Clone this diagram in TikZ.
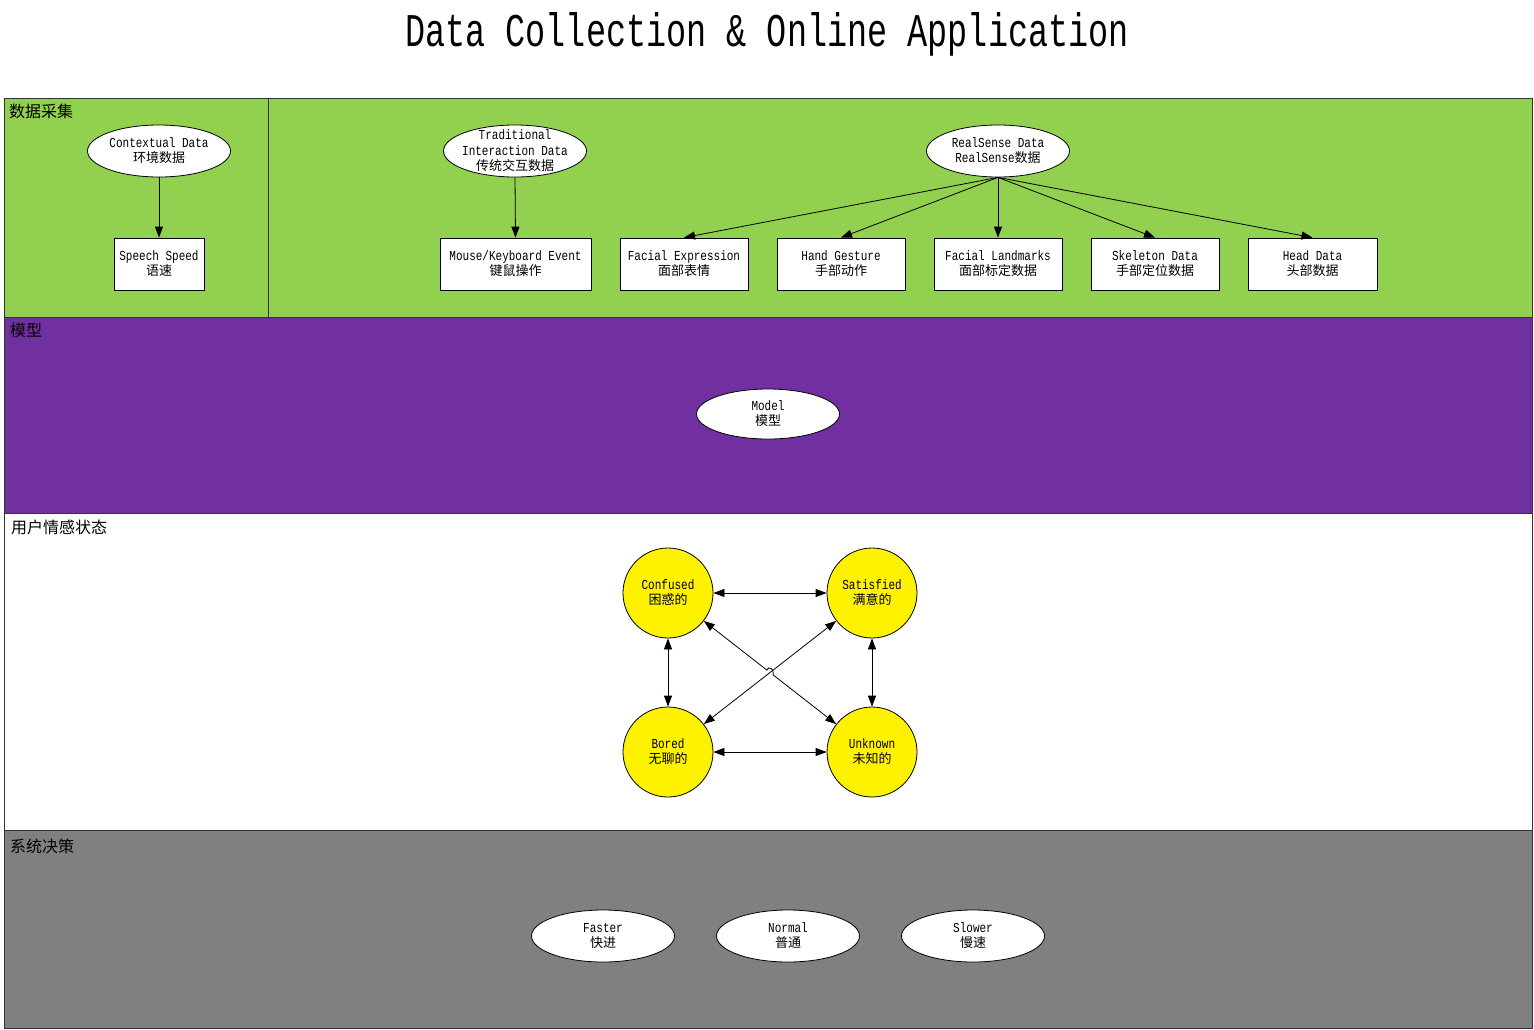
\documentclass[tikz,border=0pt]{standalone}
\usepackage{fontspec}
\usepackage{graphicx}
\setmainfont{Liberation Mono}
\newfontfamily\cjk{Noto Sans CJK SC}
\usetikzlibrary{shapes.geometric,arrows.meta,calc}
\definecolor{lgreen}{HTML}{92D050}
\definecolor{lpurple}{HTML}{7030A0}
\definecolor{lgray}{HTML}{808080}
\newcommand\zh[1]{{\cjk\fontsize{13}{15}\selectfont #1}}
\newcommand\en[1]{\scalebox{1}[1.25]{#1}}
\begin{document}
\begin{tikzpicture}[x=1pt,y=-1pt,
 every node/.style={font=\fontsize{11}{15}\selectfont, align=center, text=black},
 ell/.style={ellipse, draw=black, fill=white, minimum width=143pt, minimum height=52pt, inner sep=0pt, line width=0.8pt},
 box/.style={rectangle, draw=black, fill=white, minimum height=52pt, inner sep=0pt, line width=0.8pt},
 state/.style={circle, draw=black, fill=yellow, minimum size=90pt, inner sep=0pt, line width=0.8pt},
 arr/.style={-{Triangle[length=11pt,width=8pt]}, line width=0.8pt},
 darr/.style={{Triangle[length=11pt,width=8pt]}-{Triangle[length=11pt,width=8pt]}, line width=0.8pt},
 lane/.style={draw=black!80, line width=1pt},
 lanelabel/.style={anchor=base west, font=\cjk\fontsize{16}{16}\selectfont, inner sep=0pt}
]
\useasboundingbox (0,0) rectangle (1534,1029);
\fill[white] (0,0) rectangle (1534,1029);

% title
\node[anchor=base, inner sep=0pt] (title) at (767,46) {\fontsize{33.5}{40}\selectfont\scalebox{1}[1.4]{Data Collection \& Online Application}};

% lanes
\path[lane, fill=lgreen] (4,98) rectangle (1532,317);
\draw[lane] (268,98) -- (268,317);
\path[lane, fill=lpurple] (4,317) rectangle (1532,513);
\path[lane, fill=white] (4,513) rectangle (1532,830);
\path[lane, fill=lgray] (4,830) rectangle (1532,1028);

\node[lanelabel] (l1) at (9,117) {数据采集};
\node[lanelabel] (l2) at (10,336) {模型};
\node[lanelabel] (l3) at (11,533) {用户情感状态};
\node[lanelabel] (l4) at (10,852) {系统决策};

% data collection
\node[ell] (ctx) at (159,151) {\en{Contextual Data}\\\zh{环境数据}};
\node[box, minimum width=90pt] (speech) at (159,264) {\en{Speech Speed}\\\zh{语速}};
\node[ell, label={[align=center, inner sep=0pt, font=\fontsize{11}{15.5}\selectfont]center:\en{Traditional}\\\en{Interaction Data}\\\zh{传统交互数据}}] (trad) at (515,151) {};
\node[box, minimum width=151pt] (mk) at (515.5,264) {\en{Mouse/Keyboard Event}\\\zh{键鼠操作}};
\node[ell] (rs) at (998,151) {\en{RealSense Data}\\\en{RealSense}\zh{数据}};
\node[box, minimum width=128pt] (fe) at (684,264) {\en{Facial Expression}\\\zh{面部表情}};
\node[box, minimum width=128pt] (hg) at (841,264) {\en{Hand Gesture}\\\zh{手部动作}};
\node[box, minimum width=128pt] (fl) at (998,264) {\en{Facial Landmarks}\\\zh{面部标定数据}};
\node[box, minimum width=128pt] (sk) at (1155,264) {\en{Skeleton Data}\\\zh{手部定位数据}};
\node[box, minimum width=129pt] (hd) at (1312.5,264) {\en{Head Data}\\\zh{头部数据}};

\draw[arr] (ctx.south) -- (speech.north);
\draw[arr] (trad.south) -- (mk.north);
\foreach \t in {fe,hg,fl,sk,hd} \draw[arr] (rs.south) -- (\t.north);

% model
\node[ell, minimum height=50pt] (model) at (768,414) {\en{Model}\\\zh{模型}};

% states
\node[state] (conf) at (668,593) {\en{Confused}\\\zh{困惑的}};
\node[state] (sat) at (872,593) {\en{Satisfied}\\\zh{满意的}};
\node[state] (bor) at (668,752) {\en{Bored}\\\zh{无聊的}};
\node[state] (unk) at (872,752) {\en{Unknown}\\\zh{未知的}};

\draw[darr] (conf) -- (sat);
\draw[darr] (conf) -- (bor);
\draw[darr] (bor) -- (unk);
\draw[darr] (sat) -- (unk);
\draw[darr] (conf) -- (unk);
% line jump of Confused-Unknown over Satisfied-Bored
\coordinate (xc) at ($(conf)!0.5!(unk)$);
\fill[white] (xc) circle (3.6pt);
\draw[line width=0.8pt] (766.8,670.0) .. controls (768.8,665.2) and (774.5,669.0) .. (773.2,675.0);
\draw[darr] (sat) -- (bor);

% decisions
\node[ell] (fast) at (603,936) {\en{Faster}\\\zh{快进}};
\node[ell] (norm) at (788,936) {\en{Normal}\\\zh{普通}};
\node[ell] (slow) at (973,936) {\en{Slower}\\\zh{慢速}};
\end{tikzpicture}
\end{document}
